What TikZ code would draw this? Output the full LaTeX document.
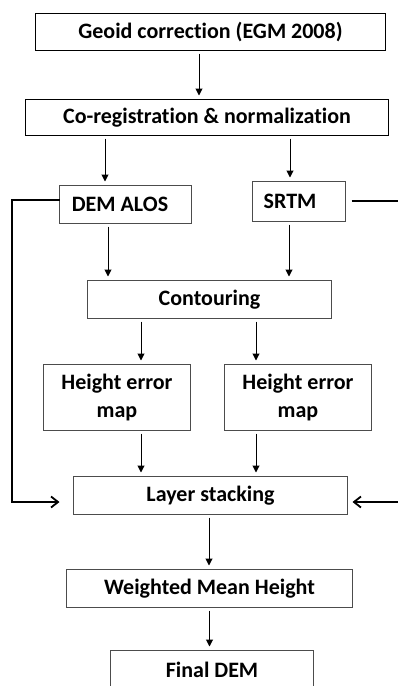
\documentclass[tikz,border=0pt]{standalone}
\usepackage{fontspec}
\setmainfont{Carlito}[Ligatures=NoCommon]
\usepackage{tikz}
\usetikzlibrary{arrows.meta,positioning}

\begin{document}
\begin{tikzpicture}[
  x=1pt,y=-1pt,
  every node/.style={font=\fontsize{22}{28}\selectfont\bfseries,align=center,outer sep=0pt},
  arrow/.style={-{Triangle[length=7pt,width=7pt]},line width=1pt,
                shorten <=3pt,shorten >=4pt},
  feed/.style={line width=1.8pt},
  topbox/.style={rectangle,draw=black,line width=1.6pt,inner sep=0pt},
  box/.style={rectangle,draw=black!70,line width=1pt,inner sep=0pt,
              minimum height=38pt}
]
\useasboundingbox (0,0) rectangle (398,686);
\clip (0,0) rectangle (398,686);

\node[topbox,minimum width=350pt,minimum height=37pt] (geoid) at (210.5,32)
  {Geoid correction (EGM 2008)};
\node[topbox,minimum width=363pt,minimum height=36pt] (coreg) at (207,117.5)
  {Co-registration \& normalization};

\node[box,minimum width=132pt] (alos) at (125.5,204.5) {DEM ALOS\hspace*{11pt}};
\node[box,minimum width=93pt,minimum height=40pt] (srtm) at (299,201.5) {SRTM\hspace*{18pt}};

\node[box,minimum width=244pt] (contour) at (209.5,299.5) {Contouring};

\node[box,minimum width=147pt,minimum height=66pt] (errA) at (117,397.5)
  {Height error\\map};
\node[box,minimum width=147pt,minimum height=66pt,right=34pt of errA] (errB)
  {Height error\\map};

\node[box,minimum width=274pt] (stack) at (210.5,495.5) {Layer stacking};
\node[box,minimum width=286pt] (wmh) at (209.5,588.5) {Weighted Mean Height};
\node[box,minimum width=203pt] (final) at (212,669.5) {Final DEM};

\coordinate (lft) at (12,0);
\coordinate (rgt) at (420,0);

\draw[arrow] ([xshift=-11.5pt]geoid.south) -- ([xshift=-11.5pt]geoid.south |- coreg.north);
\draw[arrow] ([xshift=-102pt]coreg.south) -- ([xshift=-102pt]coreg.south |- alos.north);
\draw[arrow] ([xshift=83pt]coreg.south) -- ([xshift=83pt]coreg.south |- srtm.north);
\draw[arrow] ([xshift=-17.5pt]alos.south) -- ([xshift=-17.5pt]alos.south |- contour.north);
\draw[arrow] ([xshift=-10pt]srtm.south) -- ([xshift=-10pt]srtm.south |- contour.north);
\draw[arrow] ([xshift=24pt]errA.north |- contour.south) -- ([xshift=24pt]errA.north);
\draw[arrow] ([xshift=-42pt]errB.north |- contour.south) -- ([xshift=-42pt]errB.north);
\draw[arrow] ([xshift=24pt]errA.south) -- ([xshift=24pt]errA.south |- stack.north);
\draw[arrow] ([xshift=-42pt]errB.south) -- ([xshift=-42pt]errB.south |- stack.north);
\draw[arrow] ([xshift=-1.5pt]stack.south) -- ([xshift=-1.5pt]stack.south |- wmh.north);
\draw[arrow] (wmh.south) -- (wmh.south |- final.north);

% side paths into the stacking step
\draw[feed,-{Straight Barb[length=7pt,width=11pt]},shorten >=14pt]
  ([yshift=4.5pt]alos.west) -- ([yshift=4.5pt]alos.west -| lft)
  |- ([yshift=-6.5pt]stack.west);
\draw[feed,-{Straight Barb[length=7pt,width=11pt]},shorten <=6pt,shorten >=5pt]
  ([yshift=0.5pt]srtm.east) -- ([yshift=0.5pt]srtm.east -| rgt) |- ([yshift=-6.5pt]stack.east);

\end{tikzpicture}
\end{document}
